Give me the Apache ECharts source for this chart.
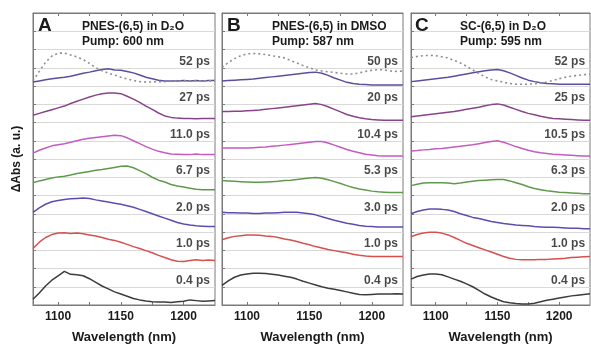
<!DOCTYPE html>
<html><head><meta charset="utf-8">
<script src="https://cdn.jsdelivr.net/npm/echarts@6/dist/echarts.min.js"></script>
<style>html,body{margin:0;padding:0;background:#fff}#c{width:591px;height:349px}</style>
</head><body><div id="c"></div>
<script>
const wavelengths = [1080,1085,1090,1095,1100,1105,1110,1115,1120,1125,1130,1135,1140,1145,1150,1155,1160,1165,1170,1175,1180,1185,1190,1195,1200,1205,1210,1215,1220,1225];
const xTickLabels = [1100, 1150, 1200];

const panelTitles = ['PNES-(6,5) in D\u2082O', 'PNES-(6,5) in DMSO', 'SC-(6,5) in D\u2082O'];
const pumpLabels = ['Pump: 600 nm', 'Pump: 587 nm', 'Pump: 595 nm'];
const panelLetters = ['A', 'B', 'C'];

const delaysA = ['0.4 ps','1.0 ps','2.0 ps','6.7 ps','11.0 ps','27 ps','52 ps'];
const delaysB = ['0.4 ps','1.0 ps','3.0 ps','5.3 ps','10.4 ps','20 ps','50 ps'];
const delaysC = ['0.4 ps','1.0 ps','2.0 ps','6.3 ps','10.5 ps','25 ps','52 ps'];

// Panel A
const A_04 = [0.16,0.33,0.52,0.68,0.80,0.92,0.84,0.83,0.80,0.72,0.62,0.52,0.44,0.36,0.30,0.24,0.18,0.14,0.11,0.09,0.08,0.08,0.07,0.09,0.10,0.14,0.12,0.10,0.11,0.12];
const A_10 = [0.55,0.72,0.85,0.93,0.97,0.98,0.96,0.97,0.95,0.92,0.89,0.85,0.80,0.77,0.72,0.66,0.60,0.55,0.49,0.43,0.36,0.30,0.24,0.20,0.19,0.22,0.24,0.22,0.23,0.22];
const A_20 = [0.54,0.66,0.76,0.83,0.86,0.89,0.91,0.92,0.93,0.92,0.88,0.85,0.82,0.79,0.76,0.72,0.68,0.62,0.56,0.50,0.44,0.38,0.32,0.26,0.22,0.19,0.17,0.16,0.15,0.15];
const A_67 = [0.35,0.40,0.44,0.48,0.51,0.53,0.56,0.60,0.63,0.66,0.69,0.71,0.74,0.77,0.80,0.81,0.76,0.68,0.60,0.50,0.42,0.37,0.30,0.26,0.23,0.20,0.17,0.16,0.16,0.16];
const A_110 = [0.16,0.24,0.30,0.36,0.39,0.42,0.46,0.50,0.54,0.57,0.59,0.61,0.63,0.65,0.64,0.58,0.50,0.42,0.34,0.27,0.21,0.17,0.14,0.13,0.12,0.12,0.14,0.12,0.12,0.12];
const A_27 = [0.20,0.25,0.30,0.35,0.40,0.45,0.52,0.58,0.64,0.70,0.75,0.79,0.81,0.81,0.79,0.72,0.64,0.55,0.45,0.36,0.26,0.18,0.14,0.12,0.11,0.11,0.10,0.11,0.11,0.11];
const A_52 = [0.11,0.14,0.17,0.20,0.22,0.24,0.27,0.31,0.35,0.38,0.42,0.45,0.47,0.44,0.43,0.40,0.36,0.30,0.24,0.20,0.16,0.14,0.14,0.14,0.15,0.14,0.15,0.14,0.15,0.15];
const A_dotted = [0.14,0.40,0.65,0.82,0.90,0.90,0.85,0.80,0.72,0.62,0.50,0.42,0.35,0.30,0.24,0.19,0.15,0.12,0.11,0.11,0.12,0.12,0.13,0.13,0.14,0.14,0.14,0.14,0.14,0.14];

// Panel B
const B_04 = [0.54,0.66,0.76,0.82,0.85,0.87,0.87,0.86,0.84,0.82,0.79,0.76,0.71,0.65,0.60,0.55,0.50,0.46,0.43,0.40,0.36,0.32,0.29,0.28,0.29,0.30,0.30,0.30,0.31,0.30];
const B_10 = [0.79,0.84,0.88,0.90,0.92,0.92,0.91,0.89,0.88,0.85,0.81,0.78,0.74,0.69,0.65,0.60,0.56,0.52,0.49,0.46,0.43,0.39,0.36,0.34,0.33,0.33,0.33,0.33,0.33,0.33];
const B_30 = [0.54,0.53,0.53,0.52,0.52,0.51,0.51,0.52,0.52,0.53,0.54,0.54,0.54,0.52,0.50,0.47,0.42,0.37,0.32,0.28,0.24,0.21,0.18,0.16,0.15,0.14,0.14,0.14,0.14,0.14];
const B_53 = [0.41,0.40,0.39,0.38,0.37,0.36,0.36,0.37,0.38,0.39,0.41,0.42,0.44,0.46,0.48,0.49,0.47,0.43,0.38,0.33,0.27,0.22,0.18,0.15,0.12,0.10,0.09,0.08,0.08,0.08];
const B_104 = [0.30,0.30,0.30,0.30,0.30,0.31,0.32,0.33,0.35,0.36,0.38,0.40,0.42,0.44,0.46,0.48,0.48,0.44,0.38,0.32,0.26,0.21,0.17,0.13,0.11,0.09,0.08,0.08,0.08,0.08];
const B_20 = [0.30,0.30,0.31,0.31,0.32,0.33,0.34,0.36,0.38,0.40,0.42,0.44,0.46,0.48,0.50,0.52,0.49,0.43,0.36,0.29,0.22,0.17,0.13,0.10,0.08,0.07,0.06,0.06,0.06,0.06];
const B_50 = [0.14,0.15,0.16,0.17,0.18,0.19,0.21,0.23,0.25,0.27,0.29,0.31,0.33,0.35,0.37,0.38,0.35,0.29,0.22,0.16,0.10,0.07,0.05,0.04,0.03,0.03,0.03,0.03,0.03,0.03];
const B_dotted = [0.51,0.64,0.75,0.83,0.88,0.89,0.88,0.86,0.83,0.80,0.77,0.70,0.63,0.56,0.50,0.44,0.41,0.39,0.37,0.35,0.33,0.33,0.36,0.40,0.43,0.45,0.44,0.41,0.40,0.41];

// Panel C
const C_04 = [0.71,0.78,0.82,0.85,0.85,0.83,0.77,0.71,0.65,0.58,0.50,0.40,0.30,0.22,0.15,0.09,0.06,0.04,0.03,0.03,0.05,0.09,0.13,0.16,0.19,0.22,0.25,0.27,0.29,0.31];
const C_10 = [0.87,0.93,0.97,0.99,0.99,0.97,0.92,0.85,0.77,0.69,0.63,0.57,0.51,0.45,0.39,0.33,0.28,0.25,0.24,0.24,0.24,0.25,0.25,0.26,0.27,0.28,0.30,0.31,0.32,0.33];
const C_20 = [0.50,0.56,0.60,0.63,0.63,0.62,0.60,0.56,0.50,0.45,0.40,0.37,0.33,0.29,0.26,0.23,0.21,0.19,0.18,0.17,0.15,0.14,0.13,0.13,0.12,0.11,0.10,0.10,0.09,0.09];
const C_63 = [0.27,0.31,0.34,0.35,0.35,0.35,0.34,0.32,0.34,0.37,0.39,0.41,0.42,0.43,0.44,0.44,0.40,0.35,0.30,0.24,0.19,0.16,0.13,0.11,0.09,0.08,0.07,0.06,0.05,0.05];
const C_105 = [0.22,0.23,0.25,0.26,0.28,0.29,0.31,0.33,0.35,0.37,0.39,0.42,0.45,0.48,0.50,0.46,0.40,0.34,0.29,0.24,0.20,0.17,0.15,0.13,0.12,0.11,0.10,0.09,0.08,0.08];
const C_25 = [0.16,0.18,0.20,0.22,0.24,0.26,0.28,0.30,0.33,0.36,0.39,0.42,0.46,0.49,0.51,0.48,0.42,0.36,0.30,0.25,0.21,0.17,0.14,0.11,0.10,0.09,0.08,0.07,0.06,0.06];
const C_52 = [0.12,0.14,0.16,0.18,0.20,0.22,0.24,0.27,0.30,0.33,0.36,0.39,0.42,0.44,0.45,0.42,0.36,0.29,0.22,0.16,0.12,0.09,0.07,0.06,0.05,0.05,0.05,0.05,0.05,0.05];
const C_dotted = [0.78,0.81,0.83,0.84,0.83,0.80,0.77,0.70,0.63,0.54,0.44,0.34,0.25,0.18,0.14,0.10,0.07,0.05,0.05,0.05,0.06,0.08,0.11,0.15,0.20,0.24,0.27,0.29,0.31,0.32];

const traceColors = ['#3c3c3c','#d8504e','#5a4fb0','#5f9a4c','#c35bc0','#87448a','#5a4f9c'];
const dottedColor = '#8f8f8f';

const panels = [
  {traces:[A_04,A_10,A_20,A_67,A_110,A_27,A_52], dotted:A_dotted, labels:delaysA},
  {traces:[B_04,B_10,B_30,B_53,B_104,B_20,B_50], dotted:B_dotted, labels:delaysB},
  {traces:[C_04,C_10,C_20,C_63,C_105,C_25,C_52], dotted:C_dotted, labels:delaysC}
];

const gridPos = [{left:33,width:182},{left:222,width:181},{left:411,width:179}];
const FONT = 'Liberation Sans, Arial, sans-serif';
const txt = '#1a1a1a';

const grids = [], xAxes = [], yAxes = [], series = [], titles = [];
gridPos.forEach((g, p) => {
  grids.push({left:g.left, width:g.width, top:13, bottom:41, show:true, borderColor:'#7a7a7a', borderWidth:1, backgroundColor:'transparent'});
  xAxes.push({
    type:'value', gridIndex:p, min:1080, max:1225, position:'bottom',
    name:'Wavelength (nm)', nameLocation:'middle', nameGap:26,
    nameTextStyle:{fontFamily:FONT, fontWeight:'bold', fontSize:13, color:txt},
    axisLine:{show:true, lineStyle:{color:'#7a7a7a'}},
    axisTick:{show:true, inside:true, length:3, customValues:[1100,1125,1150,1175,1200], lineStyle:{color:'#7a7a7a'}},
    axisLabel:{customValues:xTickLabels, formatter:v => String(v), fontFamily:FONT, fontWeight:'bold', fontSize:12, color:txt, margin:6},
    splitLine:{show:false}
  });
  xAxes.push({
    type:'value', gridIndex:p, min:1080, max:1225, position:'top',
    axisLine:{show:true, lineStyle:{color:'#7a7a7a'}},
    axisTick:{show:true, inside:true, length:3, customValues:[1100,1125,1150,1175,1200], lineStyle:{color:'#7a7a7a'}},
    axisLabel:{show:false}, splitLine:{show:false}
  });
  yAxes.push({
    type:'value', gridIndex:p, min:0, max:8, interval:1,
    name: p===0 ? '\u0394Abs (a. u.)' : '', nameLocation:'middle', nameGap:10,
    nameTextStyle:{fontFamily:FONT, fontWeight:'bold', fontSize:12, color:txt},
    axisLine:{show:true, lineStyle:{color:'#7a7a7a'}},
    axisTick:{show:true, inside:true, length:3, customValues:[0.5,1,1.5,2,2.5,3,3.5,4,4.5,5,5.5,6,6.5,7,7.5], lineStyle:{color:'#7a7a7a'}},
    axisLabel:{show:false},
    splitLine:{show:true, lineStyle:{color:'#d9d9d9', width:1}}
  });
  const pan = panels[p];
  pan.traces.forEach((vals, k) => {
    series.push({
      type:'line', xAxisIndex:p*2, yAxisIndex:p, showSymbol:false, silent:true,
      lineStyle:{color:traceColors[k], width:1.5},
      data: wavelengths.map((w,i)=>[w, k + vals[i]])
    });
    series.push({
      type:'scatter', xAxisIndex:p*2, yAxisIndex:p, symbolSize:0, silent:true,
      data:[[1221, k + 0.67]],
      label:{show:true, position:'left', distance:0, formatter:pan.labels[k], fontFamily:FONT, fontWeight:'bold', fontSize:12, color:txt}
    });
  });
  series.push({
    type:'line', xAxisIndex:p*2, yAxisIndex:p, showSymbol:false, silent:true,
    lineStyle:{color:dottedColor, width:1.6, type:[2,3]},
    data: wavelengths.map((w,i)=>[w, 6 + pan.dotted[i]])
  });
  const lx = [38, 227, 415][p];
  const tx = [82, 272, 460][p];
  titles.push({text:panelLetters[p], left:lx, top:16, textStyle:{fontFamily:FONT, fontWeight:'bold', fontSize:19, color:txt}});
  titles.push({text:panelTitles[p], left:tx, top:21, textStyle:{fontFamily:FONT, fontWeight:'bold', fontSize:12, color:txt}});
  titles.push({text:pumpLabels[p], left:tx, top:36, textStyle:{fontFamily:FONT, fontWeight:'bold', fontSize:12, color:txt}});
});

const chart = echarts.init(document.getElementById('c'), null, {renderer:'canvas'});
chart.setOption({
  animation:false,
  backgroundColor:'#fff',
  title: titles.map(t => Object.assign({padding:0}, t)),
  grid: grids, xAxis: xAxes, yAxis: yAxes, series: series
});
</script></body></html>
